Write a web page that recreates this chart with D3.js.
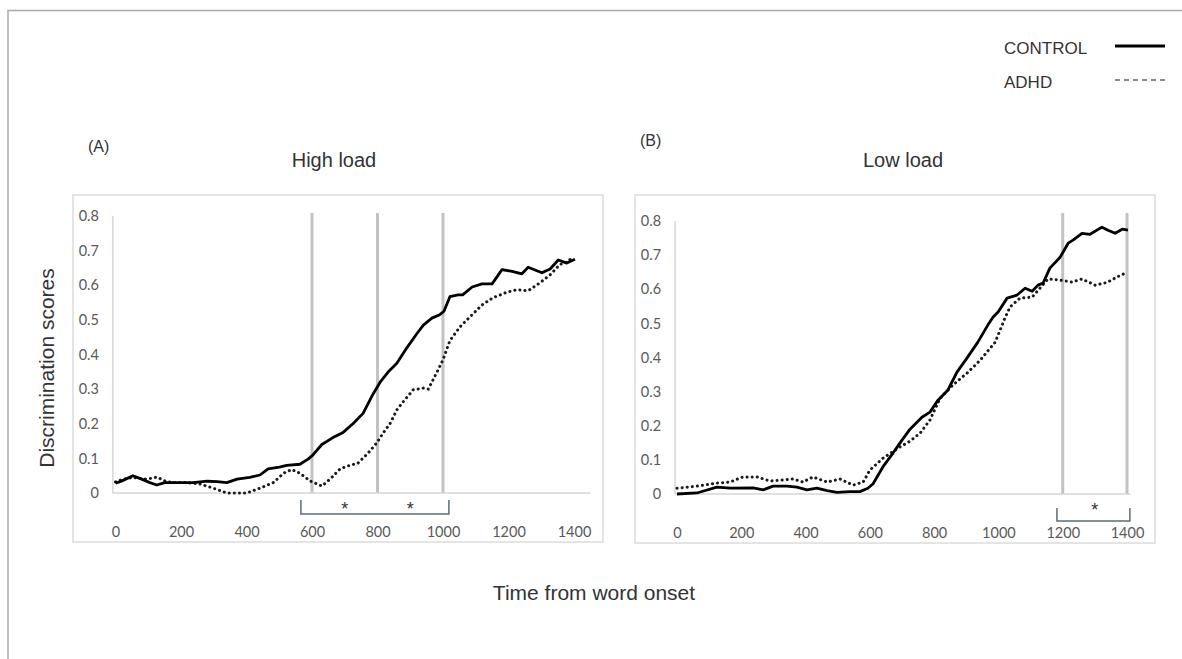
<!DOCTYPE html>
<meta charset="utf-8">
<style>
  body { margin: 0; background: #fff; }
  svg { display: block; }
  .title { font-family: "Liberation Sans", Arial, sans-serif; fill: #333; }
  .tick text { font-family: Lato, sans-serif; font-size: 14.5px; fill: #595959; }
</style>
<body></body>
<script src="https://cdn.jsdelivr.net/npm/d3@7"></script>
<script>
  const width = 1182
  const height = 659

  // [time (ms), discrimination score]
  const highLoadControl = [
    [0, .028], [20, .035], [53, .05], [80, .04], [105, .03], [126, .023], [150, .03], [200, .03],
    [237, .03], [280, .034], [310, .033], [340, .03], [371, .04], [410, .045], [441, .052], [466, .07],
    [500, .075], [523, .08], [563, .083], [588, .098], [603, .11], [630, .14], [664, .16], [695, .175],
    [725, .2], [756, .23], [783, .28], [808, .32], [833, .35], [859, .375], [890, .42], [920, .46],
    [940, .485], [966, .505], [990, .515], [1003, .525], [1021, .567], [1046, .572], [1060, .572],
    [1089, .595], [1119, .604], [1150, .604], [1180, .645], [1211, .64], [1241, .633], [1260, .652],
    [1302, .636], [1327, .647], [1352, .673], [1378, .664], [1403, .675]
  ]
  const highLoadADHD = [
    [0, .032], [25, .04], [53, .045], [75, .042], [96, .04], [126, .046], [157, .032], [190, .03],
    [218, .03], [258, .026], [298, .014], [340, 0], [370, 0], [401, 0], [441, .014], [482, .03],
    [513, .057], [538, .068], [563, .057], [594, .035], [630, .02], [655, .04], [686, .07], [716, .08],
    [740, .086], [771, .115], [798, .145], [817, .173], [838, .2], [859, .24], [878, .263], [909, .298],
    [940, .303], [955, .3], [982, .35], [1000, .385], [1021, .44], [1052, .48], [1089, .515],
    [1119, .543], [1153, .564], [1195, .58], [1226, .587], [1260, .584], [1296, .607], [1327, .63],
    [1357, .66], [1382, .668], [1397, .685]
  ]
  const lowLoadControl = [
    [0, 0], [62, .003], [124, .02], [165, .017], [237, .018], [268, .012], [299, .023], [342, .023],
    [373, .02], [404, .012], [435, .017], [467, .01], [498, .005], [538, .007], [569, .007], [594, .017],
    [610, .03], [641, .08], [672, .12], [700, .158], [725, .19], [762, .225], [787, .24], [812, .275],
    [843, .305], [871, .357], [902, .398], [936, .445], [967, .495], [983, .518], [999, .533],
    [1027, .574], [1058, .583], [1083, .603], [1105, .594], [1123, .612], [1139, .618], [1160, .662],
    [1192, .694], [1217, .735], [1232, .744], [1260, .764], [1285, .761], [1322, .782], [1341, .773],
    [1363, .764], [1385, .776], [1403, .773]
  ]
  const lowLoadADHD = [
    [0, .017], [62, .023], [124, .032], [165, .035], [205, .05], [249, .05], [289, .038], [330, .041],
    [361, .044], [392, .035], [423, .05], [467, .035], [507, .044], [548, .026], [579, .035], [600, .07],
    [641, .105], [694, .138], [725, .155], [756, .178], [787, .217], [818, .28], [859, .32], [902, .354],
    [943, .392], [990, .445], [1005, .48], [1020, .515], [1036, .548], [1067, .574], [1105, .577],
    [1129, .603], [1154, .63], [1192, .627], [1229, .621], [1260, .63], [1301, .612], [1338, .62],
    [1369, .636], [1394, .647]
  ]

  const xTicks = [0, 200, 400, 600, 800, 1000, 1200, 1400]
  const yTicks = [0, 0.1, 0.2, 0.3, 0.4, 0.5, 0.6, 0.7, 0.8]

  // significance markers: window gridlines, bracket span, star positions
  const highLoadWindows = [600, 800, 1000]
  const highLoadBracket = [566, 1018]
  const highLoadStars = [700, 900]
  const lowLoadWindows = [1200, 1400]
  const lowLoadBracket = [1182, 1409]
  const lowLoadStars = [1300]

  const panels = [
    {
      label: "(A)", title: "High load",
      frame: [73, 195, 530, 347], labelPos: [88, 152], titleX: 334,
      xRange: [115.5, 574], yRange: [493, 216], axisExtent: [-8, 1450], yAxisTop: 216,
      control: highLoadControl, adhd: highLoadADHD,
      windows: highLoadWindows, bracket: highLoadBracket, stars: highLoadStars,
      bracketY: [7, 21]
    },
    {
      label: "(B)", title: "Low load",
      frame: [635, 195, 520, 348], labelPos: [640, 146], titleX: 903,
      xRange: [677, 1127], yRange: [494, 221], axisExtent: [-6, 1410], yAxisTop: 221,
      control: lowLoadControl, adhd: lowLoadADHD,
      windows: lowLoadWindows, bracket: lowLoadBracket, stars: lowLoadStars,
      bracketY: [14, 27]
    }
  ]

  const svg = d3.select("body")
    .append("svg")
    .attr("width", width)
    .attr("height", height)

  // outer figure border (top and left only)
  svg.append("path")
    .attr("d", `M8,${height} V10.5 H${width}`)
    .attr("fill", "none")
    .attr("stroke", "#aaa")
    .attr("stroke-width", 1.5)

  function renderPanel(p) {
    const g = svg.append("g")

    const x = d3.scaleLinear().domain([0, 1400]).range(p.xRange)
    const y = d3.scaleLinear().domain([0, 0.8]).range(p.yRange)
    const y0 = y(0)

    g.append("rect")
      .attr("x", p.frame[0]).attr("y", p.frame[1])
      .attr("width", p.frame[2]).attr("height", p.frame[3])
      .attr("fill", "none")
      .attr("stroke", "#dcdcdc")
      .attr("stroke-width", 1.5)

    g.append("text")
      .attr("class", "title")
      .attr("x", p.labelPos[0]).attr("y", p.labelPos[1])
      .attr("font-size", 16)
      .text(p.label)

    g.append("text")
      .attr("class", "title")
      .attr("x", p.titleX).attr("y", 167)
      .attr("text-anchor", "middle")
      .attr("font-size", 20)
      .text(p.title)

    // significance window gridlines
    g.selectAll("line.window")
      .data(p.windows)
      .join("line")
      .attr("class", "window")
      .attr("x1", d => x(d)).attr("x2", d => x(d))
      .attr("y1", 213).attr("y2", y0)
      .attr("stroke", "#c2c2c2")
      .attr("stroke-width", 3)

    // axis lines
    g.append("line")
      .attr("x1", x(p.axisExtent[0])).attr("x2", x(p.axisExtent[0]))
      .attr("y1", p.yAxisTop).attr("y2", y0)
      .attr("stroke", "#d6d6d6").attr("stroke-width", 1.5)
    g.append("line")
      .attr("x1", x(p.axisExtent[0])).attr("x2", x(p.axisExtent[1]))
      .attr("y1", y0).attr("y2", y0)
      .attr("stroke", "#d6d6d6").attr("stroke-width", 1.5)

    const yAxis = g.append("g")
      .attr("transform", `translate(${x(p.axisExtent[0])},0)`)
      .call(d3.axisLeft(y).tickValues(yTicks).tickSize(0).tickPadding(14).tickFormat(d => d === 0 ? "0" : d3.format(".1f")(d)))
    yAxis.select(".domain").remove()

    const xAxis = g.append("g")
      .attr("transform", `translate(0,${y0})`)
      .call(d3.axisBottom(x).tickValues(xTicks).tickSize(0).tickPadding(34).tickFormat(d3.format("d")))
    xAxis.select(".domain").remove()

    const line = d3.line()
      .x(d => x(d[0]))
      .y(d => y(d[1]))

    g.append("path")
      .datum(p.adhd)
      .attr("d", line)
      .attr("fill", "none")
      .attr("stroke", "#1a1a1a")
      .attr("stroke-width", 3)
      .attr("stroke-linecap", "round")
      .attr("stroke-dasharray", "0.1 5")

    g.append("path")
      .datum(p.control)
      .attr("d", line)
      .attr("fill", "none")
      .attr("stroke", "#000")
      .attr("stroke-width", 2.8)
      .attr("stroke-linejoin", "round")

    // significance bracket
    const [bt, bb] = p.bracketY
    g.append("path")
      .attr("d", `M${x(p.bracket[0])},${y0 + bt} V${y0 + bb} H${x(p.bracket[1])} V${y0 + bt}`)
      .attr("fill", "none")
      .attr("stroke", "#5b6b7c")
      .attr("stroke-width", 1.5)

    g.selectAll("text.star")
      .data(p.stars)
      .join("text")
      .attr("class", "star title")
      .attr("x", d => x(d))
      .attr("y", y0 + 22)
      .attr("text-anchor", "middle")
      .attr("font-size", 18)
      .text("*")
  }

  panels.forEach(renderPanel)

  // shared axis titles
  svg.append("text")
    .attr("class", "title")
    .attr("transform", "translate(54,368) rotate(-90)")
    .attr("text-anchor", "middle")
    .attr("font-size", 21)
    .text("Discrimination scores")

  svg.append("text")
    .attr("class", "title")
    .attr("x", 594).attr("y", 600)
    .attr("text-anchor", "middle")
    .attr("font-size", 21)
    .text("Time from word onset")

  // legend
  const legend = [
    { name: "CONTROL", y: 48, dash: null, color: "#000", w: 3 },
    { name: "ADHD", y: 82, dash: "5 4", color: "#666", w: 1.5 }
  ]
  legend.forEach(d => {
    svg.append("text")
      .attr("class", "title")
      .attr("x", 1004).attr("y", d.y + 6)
      .attr("font-size", 17)
      .text(d.name)
    svg.append("line")
      .attr("x1", 1115).attr("x2", 1165)
      .attr("y1", d.y - 2).attr("y2", d.y - 2)
      .attr("stroke", d.color)
      .attr("stroke-width", d.w)
      .attr("stroke-dasharray", d.dash)
  })
</script>
